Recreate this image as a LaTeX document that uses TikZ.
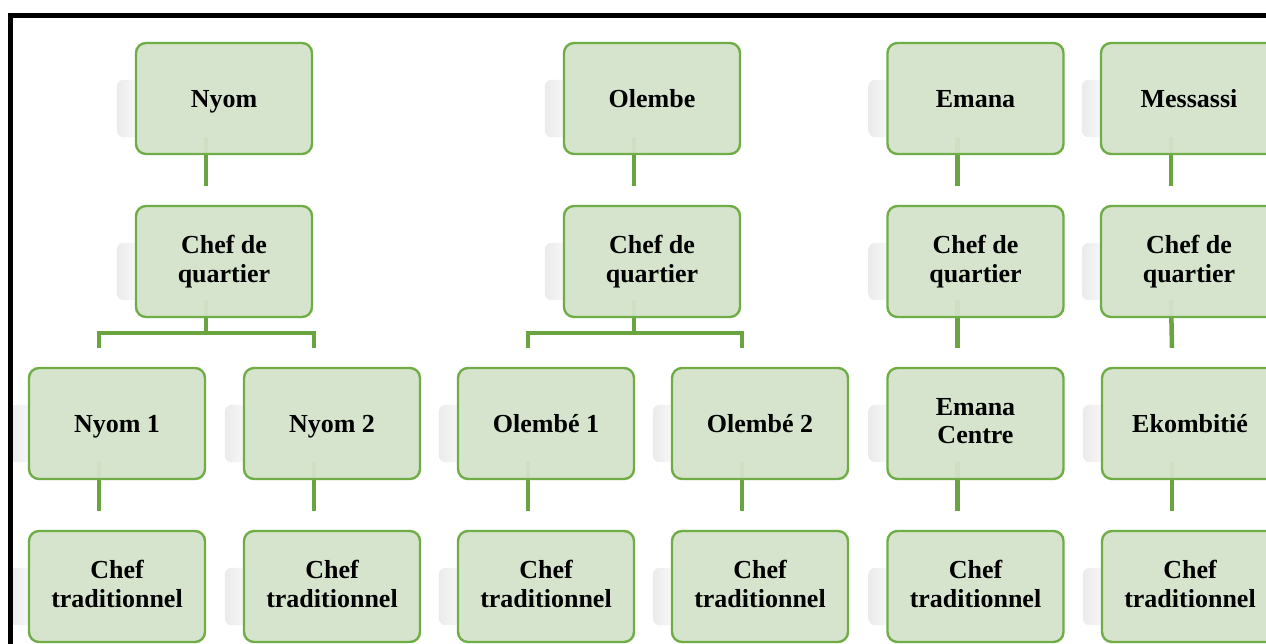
\documentclass[tikz,border=0pt]{standalone}
\usepackage{fontspec}
\setmainfont{Liberation Serif}
\usetikzlibrary{calc}
\pgfdeclarelayer{back}
\pgfdeclarelayer{links}
\pgfsetlayers{back,links,main}
\definecolor{boxline}{RGB}{112,173,71}
\definecolor{boxfill}{RGB}{212,227,204}
\definecolor{linkgreen}{RGB}{106,164,64}
% strut that centres the capitals of a line
\newcommand\ustrut{\rule[-5.45pt]{0pt}{28.5pt}}
% faint reflection left behind each box
\newcommand\ghostof[1]{%
  \shade[left color=black!8, right color=white, rounded corners=7pt]
    ([xshift=-18pt,yshift=-38pt]#1.north west) rectangle ([xshift=14pt,yshift=18pt]#1.south west);}
% straight link from one unit down to the one below
\newcommand\linkdown[2]{%
  \draw[link] ([xshift=-18pt,yshift=18pt]#1.south) -- ([xshift=-18pt,yshift=19pt]#2.north);}
% bracket from one unit to two units below
\newcommand\linkfork[3]{%
  \draw[link] ([xshift=-18pt,yshift=18pt]#1.south) |- ([xshift=-18pt,yshift=34pt]#2.north) -- ([xshift=-18pt,yshift=19pt]#2.north);
  \draw[link] ([xshift=-18pt,yshift=18pt]#1.south) |- ([xshift=-18pt,yshift=34pt]#3.north) -- ([xshift=-18pt,yshift=19pt]#3.north);}
\begin{document}
\begin{tikzpicture}[x=1pt,y=-1pt,
  unit/.style={draw=boxline, line width=2.4pt, fill=boxfill, fill opacity=0.95, text opacity=1,
    rounded corners=10pt, minimum width=176pt, minimum height=111pt, align=center,
    font=\fontsize{26}{28.5}\selectfont\bfseries, inner sep=0pt,
    execute at begin node=\ustrut, execute at end node=\ustrut},
  link/.style={draw=linkgreen, line width=4.5pt, line join=miter}]
\useasboundingbox (0,0) rectangle (1266,644);

% row 1: districts
\node[unit] (nyom) at (224,98.5) {Nyom};
\node[unit] (olembe) at (652,98.5) {Olembe};
\node[unit] (emana) at (975.5,98.5) {Emana};
\node[unit] (messassi) at (1189,98.5) {Messassi};

% row 2: chefs de quartier
\node[unit] (cqa) at (224,261.5) {Chef de\\\ustrut quartier};
\node[unit] (cqb) at (652,261.5) {Chef de\\\ustrut quartier};
\node[unit] (cqc) at (975.5,261.5) {Chef de\\\ustrut quartier};
\node[unit] (cqd) at (1189,261.5) {Chef de\\\ustrut quartier};

% row 3: sub-districts
\node[unit] (nyoma) at (117,423.5) {Nyom 1};
\node[unit] (nyomb) at (332,423.5) {Nyom 2};
\node[unit] (olea) at (546,423.5) {Olembé 1};
\node[unit] (oleb) at (760,423.5) {Olembé 2};
\node[unit] (emc) at (975.5,423.5) {Emana\\\ustrut Centre};
\node[unit] (ekb) at (1190,423.5) {Ekombitié};

% row 4: chefs traditionnels
\node[unit] (cta) at (117,586.5) {Chef\\\ustrut traditionnel};
\node[unit] (ctb) at (332,586.5) {Chef\\\ustrut traditionnel};
\node[unit] (ctc) at (546,586.5) {Chef\\\ustrut traditionnel};
\node[unit] (ctd) at (760,586.5) {Chef\\\ustrut traditionnel};
\node[unit] (cte) at (975.5,586.5) {Chef\\\ustrut traditionnel};
\node[unit] (ctf) at (1190,586.5) {Chef\\\ustrut traditionnel};

\begin{pgfonlayer}{back}
  \fill[white] (0,0) rectangle (1266,644);
  \foreach \n in {nyom,olembe,emana,messassi,cqa,cqb,cqc,cqd,nyoma,nyomb,olea,oleb,emc,ekb,cta,ctb,ctc,ctd,cte,ctf}{\ghostof{\n}}
\end{pgfonlayer}

\begin{pgfonlayer}{links}
  \linkdown{nyom}{cqa}
  \linkdown{olembe}{cqb}
  \linkdown{emana}{cqc}
  \linkdown{messassi}{cqd}
  \linkfork{cqa}{nyoma}{nyomb}
  \linkfork{cqb}{olea}{oleb}
  \linkdown{cqc}{emc}
  \linkdown{cqd}{ekb}
  \linkdown{nyoma}{cta}
  \linkdown{nyomb}{ctb}
  \linkdown{olea}{ctc}
  \linkdown{oleb}{ctd}
  \linkdown{emc}{cte}
  \linkdown{ekb}{ctf}
\end{pgfonlayer}

% outer frame, open on the right and at the bottom
\coordinate (framebl) at (10.8,650);
\coordinate (frametr) at (1272,15.8);
\draw[line width=5pt, line join=miter] (framebl) |- (frametr);
\end{tikzpicture}
\end{document}
